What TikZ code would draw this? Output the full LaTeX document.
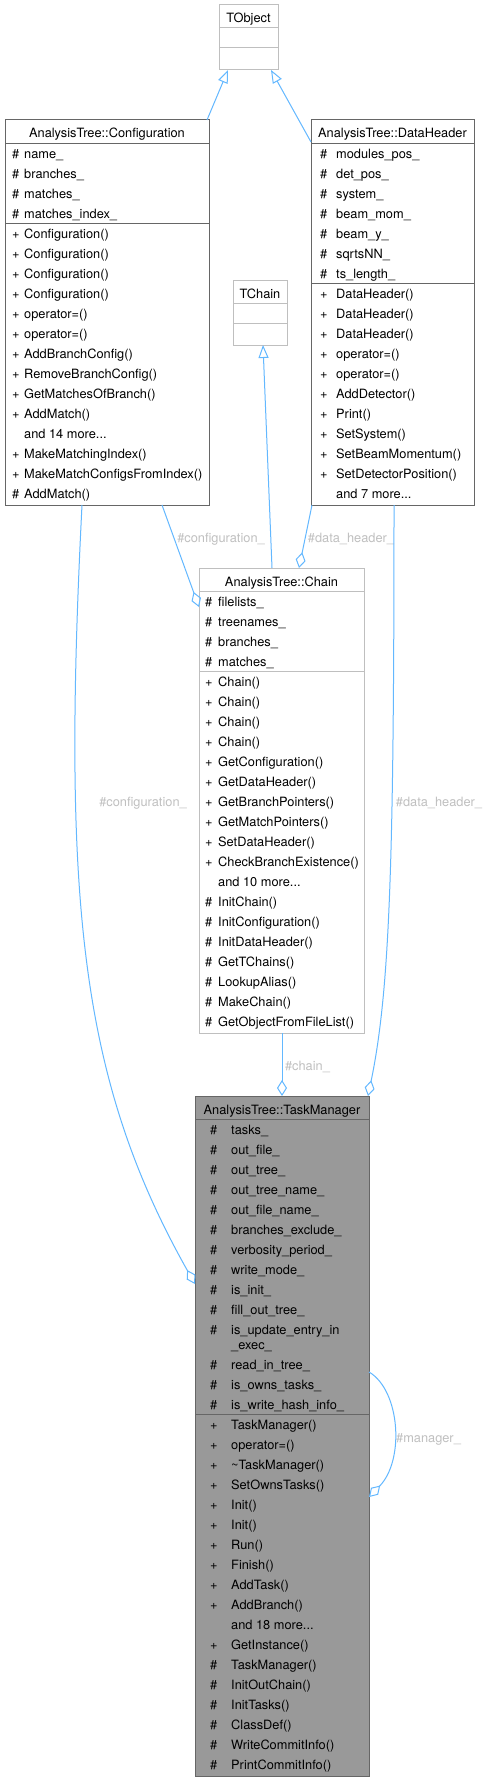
\documentclass[tikz,border=0pt]{standalone}
\usepackage{fontspec}
\setmainfont{TeX Gyre Heros}
\usetikzlibrary{arrows.meta,calc}
\definecolor{edgeblue}{HTML}{63B8FF}
\definecolor{lblgray}{HTML}{C0C0C0}
\definecolor{bordlight}{HTML}{BFBFBF}
\definecolor{borddark}{HTML}{666666}
\definecolor{tmfill}{HTML}{999999}
\newcommand\mydots{...}
\begin{document}
\begin{tikzpicture}[x=1pt,y=-1pt,
  every node/.style={font=\fontsize{12.8pt}{15pt}\selectfont},
  boxbase/.style={rectangle, line width=1pt, inner sep=0pt, outer sep=0pt, anchor=north west},
  lightbox/.style={boxbase, draw=bordlight, fill=white},
  darkbox/.style={boxbase, draw=borddark, fill=white},
  tmbox/.style={boxbase, draw=borddark, fill=tmfill},
  lightsep/.style={draw=bordlight, line width=1pt},
  darksep/.style={draw=borddark, line width=1pt},
  titletxt/.style={anchor=base, inner sep=0pt, text=black},
  member/.style={anchor=base west, inner sep=0pt, text=black},
  lbl/.style={anchor=base, inner sep=0pt, text=lblgray},
  inherit/.style={draw=edgeblue, line width=1pt, -{Triangle[open,length=13pt,width=10pt]}},
  aggr/.style={draw=edgeblue, line width=1pt, -{Diamond[open,length=16pt,width=10pt]}}
]
\useasboundingbox[fill=white] (0,0) rectangle (487,1782);

% ---------- TObject ----------
\node[lightbox, minimum width=59pt, minimum height=65pt] (tobj) at (219,5) {};
\draw[lightsep] (219,28) -- (278,28);
\draw[lightsep] (219,48) -- (278,48);
\node[titletxt] (tobj-t) at (248.5,23) {TObject};

% ---------- Configuration ----------
\node[darkbox, minimum width=204pt, minimum height=385pt] (conf) at (5,120) {};
\draw[darksep] (5,143) -- (209,143);
\draw[darksep] (5,223) -- (209,223);
\node[titletxt] (conf-t) at (107,138) {AnalysisTree::Configuration};
\foreach \s/\t [count=\i] in {\#/name\_,\#/branches\_,\#/matches\_,\#/matches\_index\_} {
  \node[member] (conf-as\i) at (12,{158+20*(\i-1)}) {\s};
  \node[member] (conf-a\i) at (24,{158+20*(\i-1)}) {\t};
}
\foreach \s/\t [count=\i] in {+/Configuration(),+/Configuration(),+/Configuration(),+/Configuration(),
  +/operator=(),+/operator=(),+/AddBranchConfig(),+/RemoveBranchConfig(),+/GetMatchesOfBranch(),
  +/AddMatch(),{}/and 14 more\mydots,+/MakeMatchingIndex(),+/MakeMatchConfigsFromIndex(),\#/AddMatch()} {
  \node[member] (conf-ms\i) at (12,{238+20*(\i-1)}) {\s};
  \node[member] (conf-m\i) at (24,{238+20*(\i-1)}) {\t};
}

% ---------- DataHeader ----------
\node[darkbox, minimum width=163pt, minimum height=385pt] (dh) at (311,120) {};
\draw[darksep] (311,143) -- (474,143);
\draw[darksep] (311,283) -- (474,283);
\node[titletxt] (dh-t) at (392.5,138) {AnalysisTree::DataHeader};
\foreach \s/\t [count=\i] in {\#/modules\_pos\_,\#/det\_pos\_,\#/system\_,\#/beam\_mom\_,\#/beam\_y\_,\#/sqrtsNN\_,\#/ts\_length\_} {
  \node[member] (dh-as\i) at (320,{158+20*(\i-1)}) {\s};
  \node[member] (dh-a\i) at (336,{158+20*(\i-1)}) {\t};
}
\foreach \s/\t [count=\i] in {+/DataHeader(),+/DataHeader(),+/DataHeader(),+/operator=(),+/operator=(),
  +/AddDetector(),+/Print(),+/SetSystem(),+/SetBeamMomentum(),+/SetDetectorPosition(),{}/and 7 more\mydots} {
  \node[member] (dh-ms\i) at (320,{298+20*(\i-1)}) {\s};
  \node[member] (dh-m\i) at (336,{298+20*(\i-1)}) {\t};
}

% ---------- TChain ----------
\node[lightbox, minimum width=54pt, minimum height=65pt] (tchain) at (233,280) {};
\draw[lightsep] (233,303) -- (287,303);
\draw[lightsep] (233,323) -- (287,323);
\node[titletxt] (tchain-t) at (260,298) {TChain};

% ---------- Chain ----------
\node[lightbox, minimum width=165pt, minimum height=465pt] (chain) at (199,568) {};
\draw[lightsep] (199,591) -- (364,591);
\draw[lightsep] (199,671) -- (364,671);
\node[titletxt] (chain-t) at (281.5,586) {AnalysisTree::Chain};
\foreach \s/\t [count=\i] in {\#/filelists\_,\#/treenames\_,\#/branches\_,\#/matches\_} {
  \node[member] (chain-as\i) at (205,{606+20*(\i-1)}) {\s};
  \node[member] (chain-a\i) at (218,{606+20*(\i-1)}) {\t};
}
\foreach \s/\t [count=\i] in {+/Chain(),+/Chain(),+/Chain(),+/Chain(),+/GetConfiguration(),+/GetDataHeader(),
  +/GetBranchPointers(),+/GetMatchPointers(),+/SetDataHeader(),+/CheckBranchExistence(),{}/and 10 more\mydots,
  \#/InitChain(),\#/InitConfiguration(),\#/InitDataHeader(),\#/GetTChains(),\#/LookupAlias(),\#/MakeChain(),
  \#/GetObjectFromFileList()} {
  \node[member] (chain-ms\i) at (205,{686+20*(\i-1)}) {\s};
  \node[member] (chain-m\i) at (218,{686+20*(\i-1)}) {\t};
}

% ---------- TaskManager ----------
\node[tmbox, minimum width=174pt, minimum height=680pt] (tm) at (195,1096) {};
\draw[darksep] (195,1119) -- (369,1119);
\draw[darksep] (195,1414) -- (369,1414);
\node[titletxt] (tm-t) at (282,1114) {AnalysisTree::TaskManager};
\foreach \t [count=\i] in {tasks\_,out\_file\_,out\_tree\_,out\_tree\_name\_,out\_file\_name\_,branches\_exclude\_,
  verbosity\_period\_,write\_mode\_,is\_init\_,fill\_out\_tree\_} {
  \node[member] (tm-as\i) at (210,{1134+20*(\i-1)}) {\#};
  \node[member] (tm-a\i) at (231,{1134+20*(\i-1)}) {\t};
}
\node[member] (tm-as11) at (210,1334) {\#};
\node[member] (tm-a11) at (231,1334) {is\_update\_entry\_in};
\node[member] (tm-a11b) at (231,1349) {\_exec\_};
\foreach \t [count=\i] in {read\_in\_tree\_,is\_owns\_tasks\_,is\_write\_hash\_info\_} {
  \node[member] (tm-bs\i) at (210,{1369+20*(\i-1)}) {\#};
  \node[member] (tm-b\i) at (231,{1369+20*(\i-1)}) {\t};
}
\foreach \s/\t [count=\i] in {+/TaskManager(),+/operator=(),+/\textasciitilde TaskManager(),+/SetOwnsTasks(),
  +/Init(),+/Init(),+/Run(),+/Finish(),+/AddTask(),+/AddBranch(),{}/and 18 more\mydots,+/GetInstance(),
  \#/TaskManager(),\#/InitOutChain(),\#/InitTasks(),\#/ClassDef(),\#/WriteCommitInfo(),\#/PrintCommitInfo()} {
  \node[member] (tm-ms\i) at (210,{1429+20*(\i-1)}) {\s};
  \node[member] (tm-m\i) at (231,{1429+20*(\i-1)}) {\t};
}

% ---------- Edges ----------
\draw[inherit] ($(conf.north west)+(202,0)$) -- ($(tobj.south west)+(9,0)$);
\draw[inherit] ($(dh.north west)+(0,22)$) -- ($(tobj.south west)+(52,0)$);
\draw[inherit] ($(chain.north west)+(73,0)$) -- ($(tchain.south west)+(30,0)$);

\draw[aggr] ($(conf.south west)+(157,0)$) -- ($(chain.north west)+(0,39)$);
\node[lbl] (l-conf1) at (221,542.5) {\#configuration\_};
\draw[aggr] ($(dh.south west)+(1,0)$) -- ($(chain.north west)+(100,0)$);
\node[lbl] (l-dh1) at (351,542.5) {\#data\_header\_};

\draw[aggr] ($(chain.south west)+(83,0)$) -- ($(tm.north west)+(87,0)$);
\node[lbl] (l-chain) at (307.5,1070.5) {\#chain\_};

\draw[aggr] ($(dh.south west)+(83,0)$) .. controls (394,860) and (390,990) .. ($(tm.north west)+(173,0)$);
\node[lbl] (l-dh2) at (439,806.5) {\#data\_header\_};

\draw[aggr] ($(conf.south west)+(77,0)$) .. controls (62,900) and (80,1080) .. ($(tm.north west)+(0,188)$);
\node[lbl] (l-conf2) at (143,806.5) {\#configuration\_};

\draw[aggr] ($(tm.north east)+(0,276)$) .. controls (400,1390) and (405,1460) .. ($(tm.north east)+(0,401)$);
\node[lbl] (l-mgr) at (428.5,1442.5) {\#manager\_};
\end{tikzpicture}
\end{document}
